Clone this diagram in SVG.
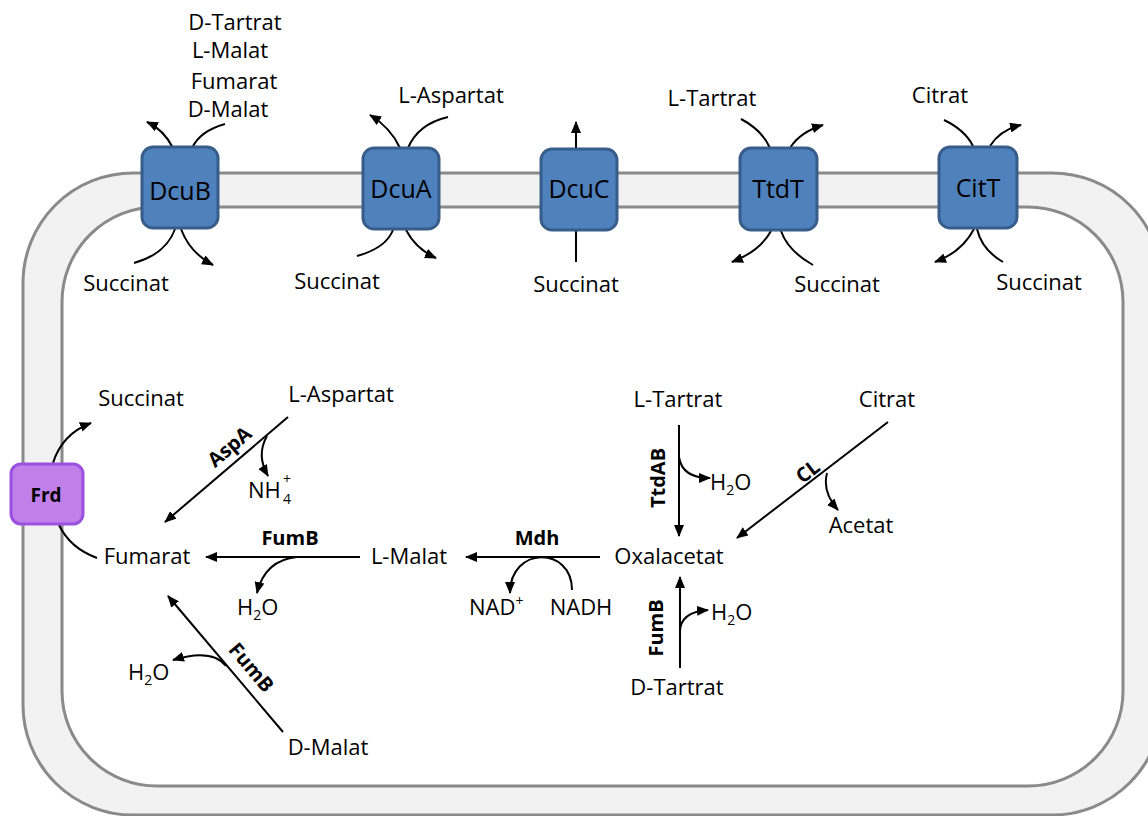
<svg xmlns="http://www.w3.org/2000/svg" width="1148" height="816" viewBox="0 0 1148 816">
  <defs>
    <marker id="ah" viewBox="0 0 12 10" refX="11" refY="5" markerWidth="12" markerHeight="10" markerUnits="userSpaceOnUse" orient="auto">
      <path d="M0,0 L12,5 L0,10 z" fill="#000"/>
    </marker>
    <style>
      text { font-family: "Open Sans", "Noto Sans", "Liberation Sans", sans-serif; fill: #000; }
      .m { font-size: 22px; text-anchor: middle; }
      .ms { font-size: 22px; }
      .sub { font-size: 14px; }
      .enz { font-size: 20px; font-weight: bold; text-anchor: middle; }
      .tp rect { fill: #4f81bd; stroke: #385d8a; stroke-width: 3; }
      .tp text { font-size: 25px; text-anchor: middle; }
      .ln { fill: none; stroke: #000; stroke-width: 2; }
      .arr { fill: none; stroke: #000; stroke-width: 2; marker-end: url(#ah); }
    </style>
  </defs>

  <!-- cell envelope: outer and inner membrane -->
  <g id="membrane">
    <rect x="23" y="173" width="1139" height="642" rx="110" ry="110" fill="#f2f2f2" stroke="#8a8a8a" stroke-width="3"/>
    <rect x="62" y="207" width="1061" height="579" rx="95" ry="95" fill="#fff" stroke="#8a8a8a" stroke-width="3"/>
  </g>

  <!-- connectors -->
  <g id="connectors">
    <!-- DcuB -->
    <path class="arr" d="M173,148 Q164,130 147,122"/>
    <path class="ln" d="M225,124 Q200,131 192,148"/>
    <path class="ln" d="M134,263 Q166,254 175,229"/>
    <path class="arr" d="M181,229 Q190,253 213,265"/>
    <!-- DcuA -->
    <path class="arr" d="M400,148 Q391,128 370,115"/>
    <path class="ln" d="M448,117 Q418,124 408,148"/>
    <path class="ln" d="M357,256 Q386,248 393,230"/>
    <path class="arr" d="M406,230 Q416,249 436,258"/>
    <!-- DcuC -->
    <path class="arr" d="M576,148 L576,122"/>
    <path class="ln" d="M576,262 L576,231"/>
    <!-- TtdT -->
    <path class="ln" d="M741,119 Q762,130 770,148"/>
    <path class="arr" d="M790,148 Q800,132 823,125"/>
    <path class="arr" d="M771,231 Q760,251 732,262"/>
    <path class="ln" d="M813,265 Q788,251 781,231"/>
    <!-- CitT -->
    <path class="ln" d="M944,120 Q965,130 973,146"/>
    <path class="arr" d="M990,146 Q1000,130 1021,125"/>
    <path class="arr" d="M974,229 Q962,252 935,262"/>
    <path class="ln" d="M1003,262 Q982,250 977,229"/>
    <!-- Frd -->
    <path class="arr" d="M53,463 Q62,434 91,423"/>
    <path class="ln" d="M97,558 Q70,548 59,525"/>
    <!-- AspA -->
    <path class="arr" d="M288,417 L165,522"/>
    <path class="arr" d="M267,436 Q256,455 268,476"/>
    <!-- FumB: L-Malat to Fumarat -->
    <path class="arr" d="M360,557 L206,557"/>
    <path class="arr" d="M297,557 Q265,560 257,593"/>
    <!-- Mdh -->
    <path class="arr" d="M600,557 L466,557"/>
    <path class="arr" d="M572,590 C572,546 510,546 510,593"/>
    <!-- TtdAB -->
    <path class="arr" d="M679,425 L679,536"/>
    <path class="arr" d="M679,457 Q682,478 710,478"/>
    <!-- CL -->
    <path class="arr" d="M888,422 L737,538"/>
    <path class="arr" d="M827,473 Q822,492 838,510"/>
    <!-- FumB: D-Tartrat to Oxalacetat -->
    <path class="arr" d="M680,668 L680,577"/>
    <path class="arr" d="M680,632 Q680,612 708,610"/>
    <!-- FumB: D-Malat to Fumarat -->
    <path class="arr" d="M283,732 L168,596"/>
    <path class="arr" d="M226,666 Q212,648 173,660"/>
  </g>

  <!-- transporters -->
  <g id="DcuB" class="tp"><rect x="142" y="147" width="76" height="81" rx="11"/><text x="180" y="200">DcuB</text></g>
  <g id="DcuA" class="tp"><rect x="363" y="148" width="76" height="81" rx="11"/><text x="401" y="198">DcuA</text></g>
  <g id="DcuC" class="tp"><rect x="541" y="149" width="76" height="81" rx="11"/><text x="579" y="198">DcuC</text></g>
  <g id="TtdT" class="tp"><rect x="740" y="148" width="77" height="82" rx="11"/><text x="778" y="198">TtdT</text></g>
  <g id="CitT" class="tp"><rect x="939" y="147" width="78" height="81" rx="11"/><text x="978" y="197">CitT</text></g>

  <g id="Frd">
    <rect x="11" y="464" width="72" height="60" rx="10" fill="#c17fea" stroke="#9b51e0" stroke-width="3"/>
    <text x="46" y="502" style="font-size:19px;font-weight:bold;text-anchor:middle">Frd</text>
  </g>

  <!-- external substrates -->
  <g id="ext-dcub">
    <text class="m" x="235" y="30">D-Tartrat</text>
    <text class="m" x="230" y="58">L-Malat</text>
    <text class="m" x="234" y="89">Fumarat</text>
    <text class="m" x="228" y="117">D-Malat</text>
  </g>
  <g id="ext-dcua"><text class="m" x="451" y="103">L-Aspartat</text></g>
  <g id="ext-ttdt"><text class="m" x="712" y="106">L-Tartrat</text></g>
  <g id="ext-citt"><text class="m" x="940" y="103">Citrat</text></g>

  <!-- succinate exported by each transporter -->
  <g id="succ-dcub"><text class="m" x="126" y="291">Succinat</text></g>
  <g id="succ-dcua"><text class="m" x="337" y="289">Succinat</text></g>
  <g id="succ-dcuc"><text class="m" x="576" y="292">Succinat</text></g>
  <g id="succ-ttdt"><text class="m" x="837" y="292">Succinat</text></g>
  <g id="succ-citt"><text class="m" x="1039" y="290">Succinat</text></g>

  <!-- cytoplasmic metabolites -->
  <g id="succinat"><text class="m" x="141" y="406">Succinat</text></g>
  <g id="l-aspartat"><text class="m" x="341" y="402">L-Aspartat</text></g>
  <g id="fumarat"><text class="m" x="147" y="564">Fumarat</text></g>
  <g id="nh4"><text class="ms" x="248" y="498">NH</text><text class="sub" x="283" y="504">4</text><text class="sub" x="283" y="484">+</text></g>
  <g id="h2o-1"><text class="ms" x="237" y="615">H<tspan class="sub" dy="5">2</tspan><tspan dy="-5">O</tspan></text></g>
  <g id="l-malat"><text class="m" x="409" y="564">L-Malat</text></g>
  <g id="nad"><text class="ms" x="469" y="615">NAD<tspan class="sub" dy="-9">+</tspan></text></g>
  <g id="nadh"><text class="m" x="581" y="615">NADH</text></g>
  <g id="oxalacetat"><text class="m" x="669" y="564">Oxalacetat</text></g>
  <g id="l-tartrat"><text class="m" x="678" y="407">L-Tartrat</text></g>
  <g id="citrat"><text class="m" x="887" y="407">Citrat</text></g>
  <g id="h2o-2"><text class="ms" x="710" y="490">H<tspan class="sub" dy="5">2</tspan><tspan dy="-5">O</tspan></text></g>
  <g id="acetat"><text class="m" x="861" y="533">Acetat</text></g>
  <g id="h2o-3"><text class="ms" x="711" y="620">H<tspan class="sub" dy="5">2</tspan><tspan dy="-5">O</tspan></text></g>
  <g id="d-tartrat"><text class="m" x="677" y="695">D-Tartrat</text></g>
  <g id="h2o-4"><text class="ms" x="128" y="680">H<tspan class="sub" dy="5">2</tspan><tspan dy="-5">O</tspan></text></g>
  <g id="d-malat"><text class="m" x="328" y="755">D-Malat</text></g>

  <!-- enzyme labels -->
  <g id="enzymes">
    <text class="enz" transform="translate(234,452) rotate(-40.5)">AspA</text>
    <text class="enz" x="290" y="545">FumB</text>
    <text class="enz" x="537" y="545">Mdh</text>
    <text class="enz" transform="translate(665,478) rotate(-90)">TtdAB</text>
    <text class="enz" transform="translate(812,477) rotate(-37.5)">CL</text>
    <text class="enz" transform="translate(663,628) rotate(-90)">FumB</text>
    <text class="enz" transform="translate(246,672) rotate(50)">FumB</text>
  </g>
</svg>
